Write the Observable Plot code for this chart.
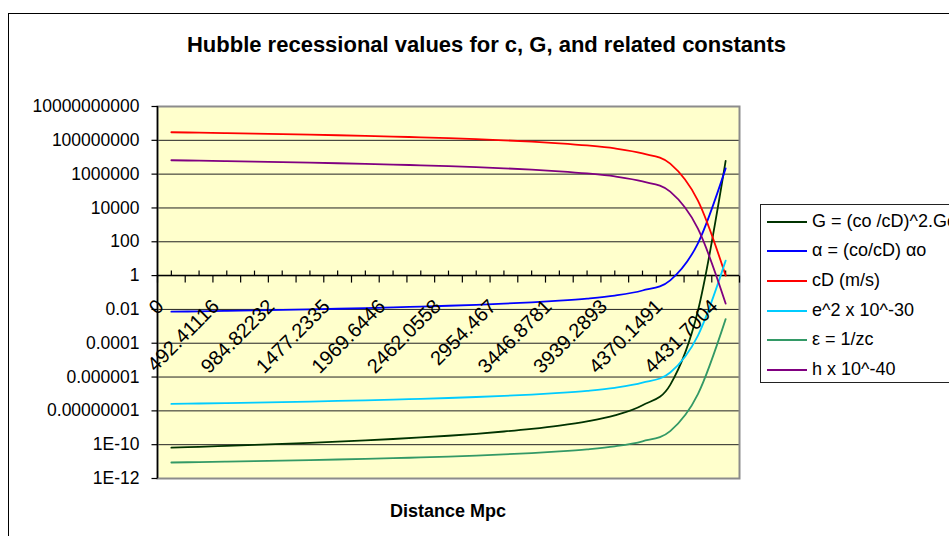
<!DOCTYPE html>
<html>
<head>
<meta charset="utf-8">
<script src="https://cdn.jsdelivr.net/npm/d3@7"></script>
<script src="https://cdn.jsdelivr.net/npm/@observablehq/plot@0.6"></script>
<style>
  html, body { margin: 0; padding: 0; background: #fff; }
  #wrap { position: relative; width: 949px; height: 536px; overflow: hidden; font-family: "Liberation Sans", Arial, sans-serif; }
  #wrap svg { position: absolute; left: 0; top: 0; }
  .abs { position: absolute; white-space: nowrap; }
</style>
</head>
<body>
<div id="wrap"></div>
<script>
// ---- data ----
const distances = ["0","246.20558","492.41116","738.61674","984.82232","1231.0279","1477.2335","1723.4391","1969.6446","2215.8502","2462.0558","2708.2614","2954.467","3200.6725","3446.8781","3693.0837","3939.2893","4185.4949","4370.1491","4431.3015","4431.7004"];
const seriesNames = ["G = (co /cD)^2.Go", "α = (co/cD) αo", "cD (m/s)", "e^2 x 10^-30", "ε = 1/zc", "h x 10^-40"];
const G     = [6.674e-11, 7.482e-11, 8.447e-11, 9.611e-11, 1.103e-10, 1.280e-10, 1.502e-10, 1.787e-10, 2.162e-10, 2.670e-10, 3.379e-10, 4.413e-10, 6.007e-10, 8.650e-10, 1.352e-9, 2.403e-9, 5.406e-9, 2.162e-8, 3.460e-7, 8.24e-3, 6.0e6];
const alpha = [0.007297, 0.007727, 0.008209, 0.008757, 0.009382, 0.010104, 0.010946, 0.011941, 0.013135, 0.014595, 0.016419, 0.018764, 0.021892, 0.026271, 0.032838, 0.043784, 0.065677, 0.13135, 0.52541, 81.08, 2.188e6];
const cD    = [2.998e8, 2.831e8, 2.665e8, 2.498e8, 2.332e8, 2.165e8, 1.999e8, 1.832e8, 1.666e8, 1.499e8, 1.332e8, 1.166e8, 9.993e7, 8.328e7, 6.662e7, 4.997e7, 3.331e7, 1.666e7, 4.164e6, 2.70e4, 1.0];
const e2    = [2.567e-8, 2.718e-8, 2.888e-8, 3.080e-8, 3.300e-8, 3.554e-8, 3.850e-8, 4.200e-8, 4.621e-8, 5.134e-8, 5.776e-8, 6.601e-8, 7.701e-8, 9.241e-8, 1.155e-7, 1.540e-7, 2.310e-7, 4.621e-7, 1.848e-6, 2.852e-4, 7.696];
const eps   = [8.854e-12, 9.375e-12, 9.961e-12, 1.0625e-11, 1.1384e-11, 1.2259e-11, 1.3281e-11, 1.4488e-11, 1.5937e-11, 1.7708e-11, 1.9922e-11, 2.2768e-11, 2.6562e-11, 3.1874e-11, 3.9843e-11, 5.3124e-11, 7.9686e-11, 1.5937e-10, 6.3749e-10, 9.838e-8, 2.654e-3];
const hVals = [6.626e6, 6.258e6, 5.890e6, 5.522e6, 5.154e6, 4.786e6, 4.417e6, 4.049e6, 3.681e6, 3.313e6, 2.945e6, 2.577e6, 2.209e6, 1.841e6, 1.472e6, 1.104e6, 7.362e5, 3.681e5, 9.203e4, 596.3, 0.0221];
const yTicks = [1e10, 1e8, 1e6, 1e4, 1e2, 1, 1e-2, 1e-4, 1e-6, 1e-8, 1e-10, 1e-12];
const yTickLabels = ["10000000000", "100000000", "1000000", "10000", "100", "1", "0.01", "0.0001", "0.000001", "0.00000001", "1E-10", "1E-12"];
const titleText = "Hubble recessional values for c, G, and related constants";
const xTitle = "Distance Mpc";

// ---- styles ----
const colors = ["#003300", "#0000ff", "#ff0000", "#00ccff", "#339966", "#800080"];
const seriesValues = [G, alpha, cD, e2, eps, hVals];

const rows = [];
seriesNames.forEach((s, k) => seriesValues[k].forEach((v, i) => rows.push({s, i, v})));
const idx = distances.map((d, i) => i);
const labelIdx = idx.filter(i => i % 2 === 0);
const bounds = d3.range(-0.5, distances.length, 1);

const tickUp   = {draw(c) { c.moveTo(0, -5); c.lineTo(0, 0); }};
const tickDown = {draw(c) { c.moveTo(0, 0); c.lineTo(0, 7); }};
const tickLeft = {draw(c) { c.moveTo(-6, 0); c.lineTo(0, 0); }};

const font = "'Liberation Sans', Arial, sans-serif";

const chart = Plot.plot({
  width: 949,
  height: 536,
  marginLeft: 157,
  marginRight: 210,
  marginTop: 106,
  marginBottom: 58,
  style: {fontFamily: font, fontSize: "17px", color: "black", background: "transparent", overflow: "visible"},
  x: {type: "linear", domain: [-0.5, distances.length - 0.5], axis: null},
  y: {type: "log", domain: [1e-12, 1e10], axis: null},
  color: {domain: seriesNames, range: colors},
  marks: [
    Plot.frame({fill: "#ffffcc", stroke: "none"}),
    Plot.ruleY(yTicks, {stroke: "#222", strokeWidth: 1}),
    Plot.frame({stroke: "#8c8c8c", strokeWidth: 2, fill: "none"}),
    Plot.ruleX([-0.5], {stroke: "black", strokeWidth: 1.5}),
    Plot.dot(yTicks, {x: () => -0.5, y: d => d, symbol: tickLeft, stroke: "black", fill: "none", strokeWidth: 1.2}),
    Plot.text(yTicks, {x: () => -0.5, y: d => d, text: (d, i) => yTickLabels[i], textAnchor: "end", dx: -18, fontSize: 17.5, fill: "black"}),
    Plot.ruleY([1], {stroke: "black", strokeWidth: 1.5}),
    Plot.dot(idx, {x: d => d, y: () => 1, symbol: tickUp, stroke: "black", fill: "none", strokeWidth: 1.2}),
    Plot.dot(bounds, {x: d => d, y: () => 1, symbol: tickDown, stroke: "black", fill: "none", strokeWidth: 1.2}),
    Plot.line(rows, {x: "i", y: "v", z: "s", stroke: "s", curve: "cardinal", strokeWidth: 1.8}),
    Plot.text(labelIdx, {x: d => d, y: () => 1, text: d => distances[d], rotate: -45, textAnchor: "end", lineAnchor: "middle", dx: -11, dy: 27.5, fontSize: 20, fill: "black"})
  ]
});

const wrap = document.getElementById("wrap");
wrap.appendChild(chart);

// outer chart border
const border = document.createElement("div");
border.className = "abs";
Object.assign(border.style, {left: "8px", top: "13px", width: "1000px", height: "600px", border: "1px solid #000", boxSizing: "border-box", pointerEvents: "none"});
wrap.appendChild(border);

// title
const t = document.createElement("div");
t.className = "abs";
Object.assign(t.style, {left: "8px", width: "957px", top: "33px", textAlign: "center", font: "bold 22px " + font, lineHeight: "24px"});
t.textContent = titleText;
wrap.appendChild(t);

// x axis title
const xt = document.createElement("div");
xt.className = "abs";
Object.assign(xt.style, {left: "157px", width: "582px", top: "500px", textAlign: "center", font: "bold 18px " + font, lineHeight: "22px"});
xt.textContent = xTitle;
wrap.appendChild(xt);

// legend
const lg = document.createElement("div");
lg.className = "abs";
Object.assign(lg.style, {left: "760px", top: "204px", width: "220px", height: "179px", border: "1px solid #222", background: "#fff", boxSizing: "border-box"});
wrap.appendChild(lg);
seriesNames.forEach((name, k) => {
  const cy = 16.5 + k * 29.7;
  const sw = document.createElement("div");
  sw.className = "abs";
  Object.assign(sw.style, {left: "6px", width: "40px", top: (cy - 1) + "px", height: "2px", background: colors[k]});
  lg.appendChild(sw);
  const tx = document.createElement("div");
  tx.className = "abs";
  Object.assign(tx.style, {left: "51px", top: (cy - 11) + "px", lineHeight: "22px", font: "18px " + font});
  tx.textContent = name;
  lg.appendChild(tx);
});
</script>
</body>
</html>
